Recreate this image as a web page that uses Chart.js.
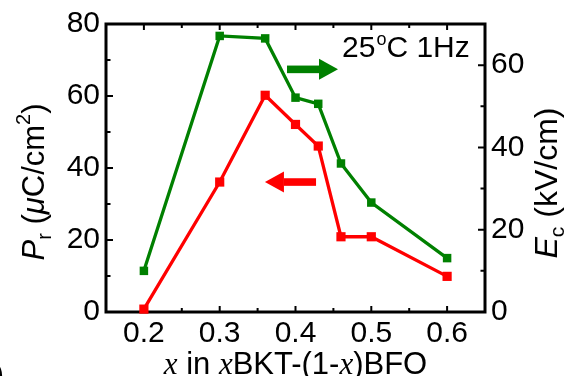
<!DOCTYPE html>
<html>
<head>
<meta charset="utf-8">
<script src="https://cdn.jsdelivr.net/npm/chart.js@4.4.0/dist/chart.umd.min.js"></script>
<style>
  html, body { margin: 0; padding: 0; background: #fff; }
  #wrap { width: 575px; height: 376px; }
</style>
</head>
<body>
<div id="wrap"><canvas id="myChart" width="575" height="376"></canvas></div>
<script>
// composition x in xBKT-(1-x)BFO
const xValues = [0.2, 0.3, 0.36, 0.4, 0.43, 0.46, 0.5, 0.6];
// remanent polarization Pr (uC/cm2), left axis
const prValues = [0.8, 36.1, 60.2, 52.1, 46.1, 20.9, 20.9, 9.9];
// coercive field Ec (kV/cm), right axis
const ecValues = [10.0, 67.1, 66.5, 52.1, 50.6, 36.1, 26.6, 13.1];

const xTickValues = [0.2, 0.25, 0.3, 0.35, 0.4, 0.45, 0.5, 0.55, 0.6];
const xLabelValues = [0.2, 0.3, 0.4, 0.5, 0.6];
const prTickValues = [0, 10, 20, 30, 40, 50, 60, 70, 80];
const prLabelValues = [0, 20, 40, 60, 80];
const ecTickValues = [0, 10, 20, 30, 40, 50, 60, 70];
const ecLabelValues = [0, 20, 40, 60];

const SANS = '"Liberation Sans", Arial, sans-serif';
const SERIF = '"Liberation Serif", "Times New Roman", serif';
const RED = '#ff0000';
const GREEN = '#008000';

function toPoints(ys) {
    return xValues.map((x, i) => ({ x: x, y: ys[i] }));
}

function drawParts(ctx, parts, cx, y) {
    let total = 0;
    parts.forEach(p => { ctx.font = p.f; total += ctx.measureText(p.t).width; });
    let x = cx - total / 2;
    parts.forEach(p => {
        ctx.font = p.f;
        ctx.fillText(p.t, x, y + (p.dy || 0));
        x += ctx.measureText(p.t).width;
    });
}

function drawArrow(ctx, tail, tip, y, color) {
    const dir = tip > tail ? 1 : -1;
    const headLen = 19, headHalf = 10.5, shaftHalf = 3.8;
    const base = tip - dir * headLen;
    ctx.fillStyle = color;
    ctx.fillRect(Math.min(tail, base), y - shaftHalf, Math.abs(base - tail), shaftHalf * 2);
    ctx.beginPath();
    ctx.moveTo(tip, y);
    ctx.lineTo(base, y - headHalf);
    ctx.lineTo(base, y + headHalf);
    ctx.closePath();
    ctx.fill();
}

// frame and inward tick marks, under the data
const framePlugin = {
    id: 'frame',
    beforeDatasetsDraw(chart) {
        const { ctx, chartArea: a, scales } = chart;
        ctx.save();
        ctx.strokeStyle = '#000';
        ctx.lineWidth = 3;
        ctx.strokeRect(a.left, a.top, a.right - a.left, a.bottom - a.top);
        ctx.lineWidth = 2;
        ctx.beginPath();
        scales.x.ticks.forEach(t => {
            const px = scales.x.getPixelForValue(t.value);
            const len = xLabelValues.includes(t.value) ? 6 : 4;
            ctx.moveTo(px, a.bottom); ctx.lineTo(px, a.bottom - len);
            ctx.moveTo(px, a.top); ctx.lineTo(px, a.top + len);
        });
        scales.y.ticks.forEach(t => {
            const py = scales.y.getPixelForValue(t.value);
            const len = prLabelValues.includes(t.value) ? 7 : 4.5;
            ctx.moveTo(a.left, py); ctx.lineTo(a.left + len, py);
        });
        scales.y1.ticks.forEach(t => {
            const py = scales.y1.getPixelForValue(t.value);
            const len = ecLabelValues.includes(t.value) ? 7 : 4.5;
            ctx.moveTo(a.right, py); ctx.lineTo(a.right - len, py);
        });
        ctx.stroke();
        ctx.restore();
    },
    afterDraw(chart) {
        const { ctx, chartArea: a, scales } = chart;
        const xs = scales.x, ys = scales.y;
        ctx.save();
        ctx.fillStyle = '#000';
        ctx.textBaseline = 'alphabetic';

        // left title
        ctx.save();
        ctx.translate(44, (a.top + a.bottom) / 2 + 14);
        ctx.rotate(-Math.PI / 2);
        drawParts(ctx, [
            { t: 'P', f: 'italic 31px ' + SANS },
            { t: 'r', f: '20px ' + SANS, dy: 7 },
            { t: ' (', f: '31px ' + SANS },
            { t: 'μ', f: 'italic 31px ' + SANS },
            { t: 'C/cm', f: '31px ' + SANS },
            { t: '2', f: '20px ' + SANS, dy: -14 },
            { t: ')', f: '31px ' + SANS }
        ], 0, 0);
        ctx.restore();

        // right title
        ctx.save();
        ctx.translate(557, (a.top + a.bottom) / 2 + 15);
        ctx.rotate(-Math.PI / 2);
        drawParts(ctx, [
            { t: 'E', f: 'italic 32px ' + SANS },
            { t: 'c', f: '21px ' + SANS, dy: 7 },
            { t: ' (kV/cm)', f: '32px ' + SANS }
        ], 0, 0);
        ctx.restore();

        // bottom title
        drawParts(ctx, [
            { t: 'x', f: 'italic 31px ' + SERIF },
            { t: ' in ', f: '31px ' + SANS },
            { t: 'x', f: 'italic 31px ' + SERIF },
            { t: 'BKT-(1-', f: '31px ' + SANS },
            { t: 'x', f: 'italic 31px ' + SERIF },
            { t: ')BFO', f: '31px ' + SANS }
        ], (a.left + a.right) / 2, 374);

        // cut-off panel label at the lower left
        ctx.font = '30px ' + SANS;
        ctx.fillText(')', -6, 384);

        // condition text
        ctx.textAlign = 'left';
        let tx = xs.getPixelForValue(0.4614);
        const ty = ys.getPixelForValue(70.8);
        ctx.font = '30px ' + SANS;
        ctx.fillText('25', tx, ty);
        tx += ctx.measureText('25').width;
        ctx.font = '18px ' + SANS;
        ctx.fillText('o', tx + 1, ty - 12);
        tx += ctx.measureText('o').width + 1;
        ctx.font = '30px ' + SANS;
        ctx.fillText('C 1Hz', tx, ty);

        // arrows pointing to each axis
        drawArrow(ctx, xs.getPixelForValue(0.3888), xs.getPixelForValue(0.4561), ys.getPixelForValue(67.4), GREEN);
        drawArrow(ctx, xs.getPixelForValue(0.4271), xs.getPixelForValue(0.3597), ys.getPixelForValue(36.1), RED);
        ctx.restore();
    }
};

const tickFont = { family: SANS, size: 30 };

const config = {
    type: 'line',
    data: {
        datasets: [
            {
                label: 'Ec',
                data: toPoints(ecValues),
                yAxisID: 'y1',
                borderColor: GREEN,
                backgroundColor: GREEN,
                borderWidth: 3.3,
                pointStyle: 'rect',
                pointRadius: 6,
                pointBorderWidth: 0,
                tension: 0,
                clip: false
            },
            {
                label: 'Pr',
                data: toPoints(prValues),
                yAxisID: 'y',
                borderColor: RED,
                backgroundColor: RED,
                borderWidth: 3.3,
                pointStyle: 'rect',
                pointRadius: 6.5,
                pointBorderWidth: 0,
                tension: 0,
                clip: false
            }
        ]
    },
    options: {
        responsive: false,
        animation: false,
        layout: { padding: { top: 24, left: 0, right: 0, bottom: 0 } },
        plugins: { legend: { display: false }, tooltip: { enabled: false } },
        scales: {
            x: {
                type: 'linear',
                min: 0.15,
                max: 0.65,
                grid: { display: false, drawTicks: false },
                border: { display: false },
                afterBuildTicks: s => { s.ticks = xTickValues.map(v => ({ value: v })); },
                afterFit: s => { s.height = 64; },
                ticks: {
                    color: '#000',
                    font: tickFont,
                    padding: 4,
                    maxRotation: 0,
                    autoSkip: false,
                    callback: v => xLabelValues.includes(v) ? v.toFixed(1) : ''
                }
            },
            y: {
                position: 'left',
                min: 0,
                max: 80,
                grid: { display: false, drawTicks: false },
                border: { display: false },
                afterBuildTicks: s => { s.ticks = prTickValues.map(v => ({ value: v })); },
                afterFit: s => { s.width = 106; },
                ticks: {
                    color: '#000',
                    font: tickFont,
                    padding: 6,
                    autoSkip: false,
                    callback: v => prLabelValues.includes(v) ? String(v) : ''
                }
            },
            y1: {
                position: 'right',
                min: 0,
                max: 70,
                grid: { display: false, drawTicks: false },
                border: { display: false },
                afterBuildTicks: s => { s.ticks = ecTickValues.map(v => ({ value: v })); },
                afterFit: s => { s.width = 90; },
                ticks: {
                    color: '#000',
                    font: tickFont,
                    padding: 6,
                    autoSkip: false,
                    callback: v => ecLabelValues.includes(v) ? String(v) : ''
                }
            }
        }
    },
    plugins: [framePlugin]
};

new Chart(document.getElementById('myChart').getContext('2d'), config);
</script>
</body>
</html>
